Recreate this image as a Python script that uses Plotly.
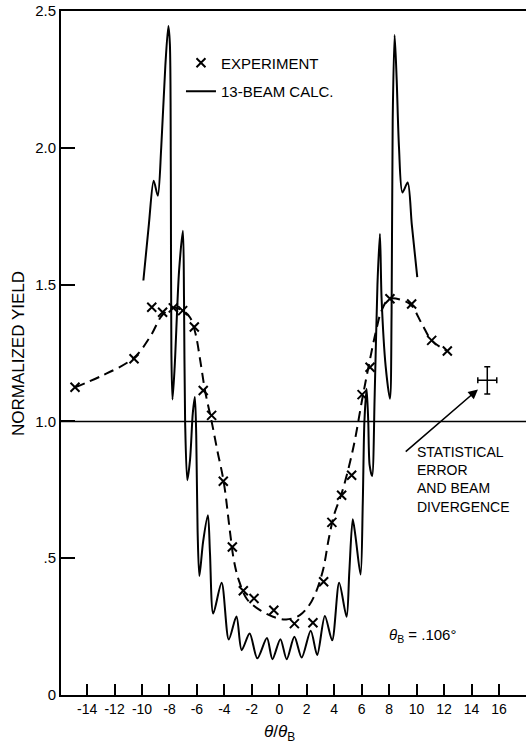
import plotly.graph_objects as go

# ---- data ----
exp_x = [-14.88, -10.58, -9.29, -8.50, -7.72, -7.04, -6.19, -5.54, -4.93, -4.08,
         -3.42, -2.62, -1.84, -0.40, 1.10, 2.45, 3.23, 3.83, 4.54, 5.27, 6.03,
         6.61, 8.06, 9.64, 11.10, 12.24]
exp_y = [1.125, 1.229, 1.417, 1.399, 1.415, 1.405, 1.345, 1.113, 1.022, 0.781,
         0.541, 0.381, 0.353, 0.310, 0.261, 0.264, 0.414, 0.631, 0.730, 0.803, 1.098,
         1.198, 1.448, 1.429, 1.296, 1.257]

fit_x = [-14.88, -13.0, -10.6, -9.4, -8.5, -7.7, -7.05, -6.5, -6.1, -5.75, -5.4,
         -4.93, -4.5, -4.05, -3.6, -3.3, -2.95, -2.35, -1.4, -0.45, 0.5, 1.5, 2.2,
         2.7, 3.2, 3.6, 4.0, 4.5, 5.0, 5.5, 6.0, 6.5, 7.0, 7.45, 8.0, 8.9, 9.6,
         10.4, 11.1, 12.24]
fit_y = [1.125, 1.165, 1.232, 1.31, 1.39, 1.415, 1.405, 1.38, 1.32, 1.22, 1.11,
         1.00, 0.89, 0.78, 0.60, 0.49, 0.42, 0.35, 0.31, 0.286, 0.276, 0.292, 0.33,
         0.38, 0.46, 0.57, 0.66, 0.73, 0.82, 0.93, 1.07, 1.20, 1.32, 1.405, 1.448,
         1.444, 1.425, 1.355, 1.296, 1.257]

calc_x = [-9.90, -9.50, -9.15, -8.85, -8.60, -8.30, -8.08, -7.97, -7.90, -7.86,
          -7.78, -7.62, -7.30, -7.02, -6.94, -6.86, -6.70, -6.50, -6.30, -6.15,
          -6.05, -5.95, -5.82, -5.55, -5.20, -5.05, -4.81, -4.20, -3.68, -3.12,
          -2.74, -2.16, -1.60, -0.90, -0.50, 0.08, 0.54, 1.10, 1.63, 2.29, 2.76,
          3.32, 3.85, 4.36, 4.90, 5.10, 5.35, 5.55, 5.92, 6.08, 6.20, 6.36, 6.48,
          6.58, 6.76, 6.95, 7.15, 7.33, 7.45, 7.75, 8.06, 8.18, 8.26, 8.40, 8.55,
          8.72, 8.97, 9.35, 9.65, 10.05]
calc_y = [1.515, 1.72, 1.88, 1.825, 2.00, 2.30, 2.445, 2.38, 1.90, 1.25,
          1.08, 1.20, 1.55, 1.697, 1.45, 1.00, 0.785, 0.86, 1.03, 1.089,
          0.95, 0.60, 0.435, 0.56, 0.657, 0.52, 0.298, 0.41, 0.203, 0.287,
          0.164, 0.225, 0.134, 0.208, 0.131, 0.204, 0.131, 0.213, 0.137, 0.235, 0.146,
          0.289, 0.200, 0.410, 0.286, 0.45, 0.642, 0.58, 0.44, 0.70, 1.00, 1.119, 1.00,
          0.84, 0.80, 1.10, 1.50, 1.685, 1.45, 1.20, 1.083, 1.40, 2.10, 2.412, 2.25,
          2.00, 1.837, 1.873, 1.72, 1.527]

err_x, err_y, err_dx, err_dy = [15.15], [1.15], [0.69], [0.05]

x_ticks = list(range(-14, 17, 2))
x_tick_text = [str(v) for v in x_ticks]
y_ticks = [0, 0.5, 1.0, 1.5, 2.0, 2.5]
y_tick_text = ["0", ".5", "1.0", "1.5", "2.0", "2.5"]

FONT = "Liberation Sans"

fig = go.Figure()

fig.add_trace(go.Scatter(
    x=fit_x, y=fit_y, mode="lines", showlegend=False,
    line=dict(color="black", width=2, dash="10px,6px", shape="spline", smoothing=1.0),
    hoverinfo="skip"))

fig.add_trace(go.Scatter(
    x=exp_x, y=exp_y, mode="markers", name="EXPERIMENT",
    legendgroup="a", legendrank=1,
    marker=dict(symbol="x-thin", size=9, color="black",
                line=dict(color="black", width=2))))

fig.add_trace(go.Scatter(
    x=calc_x, y=calc_y, mode="lines", name="13-BEAM CALC.",
    legendgroup="b", legendrank=2,
    line=dict(color="black", width=2, shape="spline", smoothing=0.8)))

fig.add_trace(go.Scatter(
    x=err_x, y=err_y, mode="markers", showlegend=False,
    marker=dict(size=1, color="rgba(0,0,0,0)"),
    error_x=dict(type="data", array=err_dx, color="black", thickness=1.5, width=3),
    error_y=dict(type="data", array=err_dy, color="black", thickness=1.5, width=3)))

fig.add_shape(type="line", xref="paper", yref="y", x0=0, x1=1, y0=1.0, y1=1.0,
              line=dict(color="black", width=1.5))

fig.add_annotation(x=14.47, y=1.117, ax=9.1, ay=0.885, axref="x", ayref="y",
                   xref="x", yref="y", text="", showarrow=True,
                   arrowhead=2, arrowsize=1.2, arrowwidth=1.6, arrowcolor="black")

fig.add_annotation(x=9.9, y=0.925, xref="x", yref="y", xanchor="left", yanchor="top",
                   align="left", showarrow=False,
                   text="STATISTICAL<br>ERROR<br>AND BEAM<br>DIVERGENCE",
                   font=dict(family=FONT, size=14, color="black"))

fig.add_annotation(x=10.4, y=0.219, xref="x", yref="y", showarrow=False,
                   text="<i>θ</i><sub>B</sub> = .106°",
                   font=dict(family=FONT, size=15, color="black"))

fig.add_annotation(x=0, y=-0.055, xref="x", yref="paper", yanchor="middle",
                   showarrow=False, text="<i>θ</i>/<i>θ</i><sub>B</sub>",
                   font=dict(family=FONT, size=17, color="black"))

fig.add_annotation(x=-0.0925, y=0.5, xref="paper", yref="paper", textangle=-90,
                   xanchor="center", yanchor="middle",
                   showarrow=False, text="NORMALIZED YIELD",
                   font=dict(family=FONT, size=17, color="black"))

fig.update_layout(
    width=526, height=748,
    margin=dict(l=61, r=0, t=11, b=53),
    paper_bgcolor="white", plot_bgcolor="white",
    font=dict(family=FONT, color="black"),
    legend=dict(x=0.258, y=0.948, xanchor="left", yanchor="top",
                traceorder="grouped", tracegroupgap=6,
                bgcolor="rgba(0,0,0,0)",
                font=dict(family=FONT, size=15, color="black")),
    xaxis=dict(range=[-15.9, 17.97], tickvals=x_ticks, ticktext=x_tick_text,
               ticks="inside", ticklen=11, tickwidth=1.5, tickcolor="black",
               showline=True, linecolor="black", linewidth=2, mirror=True,
               showgrid=False, zeroline=False,
               tickfont=dict(family=FONT, size=14, color="black")),
    yaxis=dict(range=[0, 2.5], tickvals=y_ticks, ticktext=y_tick_text,
               ticks="inside", ticklen=14, tickwidth=1.5, tickcolor="black",
               showline=True, linecolor="black", linewidth=2,
               showgrid=False, zeroline=False,
               tickfont=dict(family=FONT, size=15, color="black")),
)

fig.write_html("out.html")
